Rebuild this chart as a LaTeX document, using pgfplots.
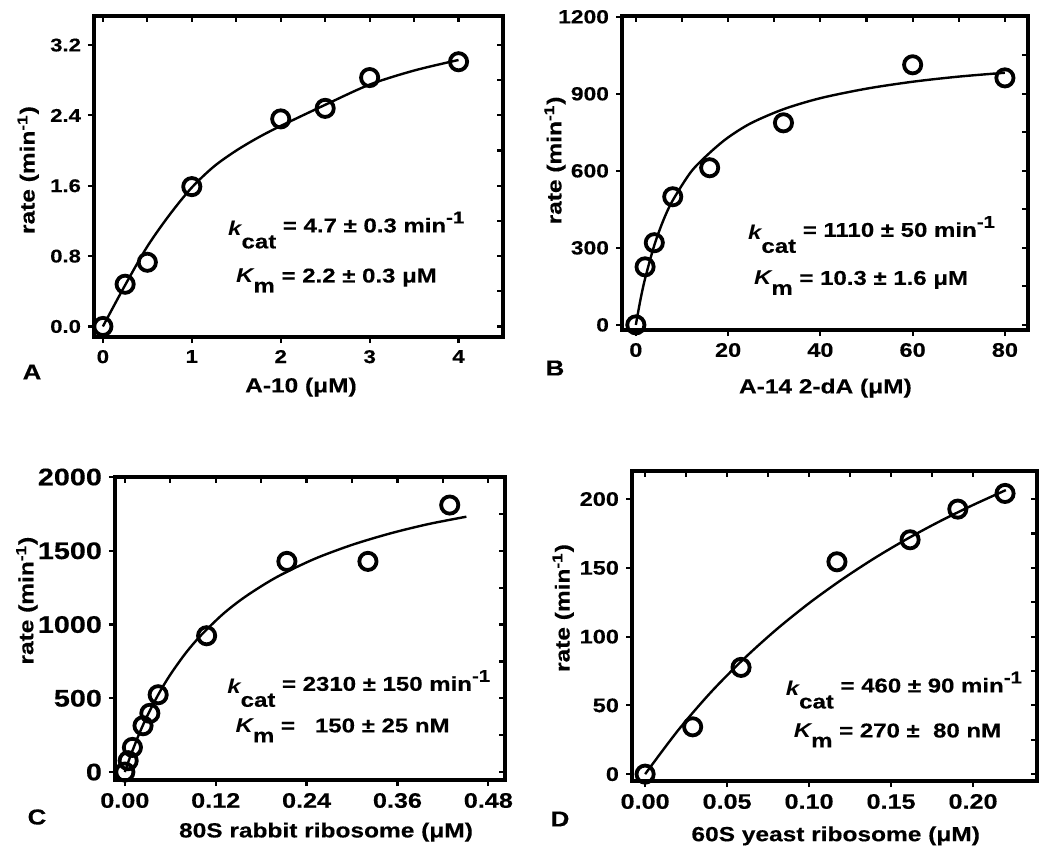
\documentclass[border=0pt]{standalone}
\usepackage{pgfplots}
\pgfplotsset{compat=1.18}
\usepackage{fontspec}
\setmainfont{Liberation Sans}[FakeStretch=1.2, BoldFeatures={FakeBold=0.35}]
\newcommand{\fs}[1]{\fontsize{#1}{#1}\selectfont}
\newcommand{\kcat}{\raisebox{-0.15em}{\itshape k}\raisebox{-0.8em}{cat}}
\newcommand{\Km}{{\itshape K}\raisebox{-0.5em}{m}}
\newcommand{\minv}{min\raisebox{0.45em}{\fs{8.5}-1}}
\newcommand{\minsup}{min\textsuperscript{-1}}
\tikzset{note/.style={anchor=base west, font=\bfseries\fs{10}}}
\pgfplotsset{
  base/.style={scale only axis, clip=false,
    axis line style={line width=1.6pt},
    every tick/.append style={line width=1.1pt, black},
    every minor tick/.append style={line width=1.1pt, black},
    scaled ticks=false,
    /pgf/number format/assume math mode=true,
    /pgf/number format/1000 sep={},
    label style={font=\bfseries\fs{10.2}},
  },
  outerax/.style={base, tick align=outside, xtick pos=bottom, ytick pos=left, major tick length=3pt},
  innerax/.style={base, tick align=inside, xtick pos=top, ytick pos=right,
    xticklabels={}, yticklabels={}, minor x tick num=1, minor y tick num=1,
    major tick length=3pt, minor tick length=3pt},
  fit/.style={black, line width=1.2pt, smooth, no marks},
  pts/.style={black, only marks, mark=o, mark size=4.3pt, mark options={line width=1.9pt, solid}},
  panelA/.style={at={(47pt,-8pt)}, anchor=north west, width=204.5pt, height=160.5pt,
    xmin=-0.1, xmax=4.5, ymin=-0.12, ymax=3.53,
    xtick={0,1,2,3,4}, ytick={0,0.8,1.6,2.4,3.2}},
  panelB/.style={at={(311pt,-8pt)}, anchor=north west, width=203pt, height=157pt,
    xmin=-3, xmax=85, ymin=-20, ymax=1203,
    xtick={0,20,40,60,80}, ytick={0,300,600,900,1200}},
  panelC/.style={at={(57.5pt,-238.5pt)}, anchor=north west, width=195pt, height=151.5pt,
    xmin=-0.013, xmax=0.502, ymin=-54, ymax=2000,
    xtick={0,0.12,0.24,0.36,0.48}, ytick={0,500,1000,1500,2000}},
  panelD/.style={at={(316pt,-235.5pt)}, anchor=north west, width=202.5pt, height=155pt,
    xmin=-0.008, xmax=0.239, ymin=-5, ymax=220.4,
    xtick={0,0.05,0.1,0.15,0.2}, ytick={0,50,100,150,200}},
}
\begin{document}
\begin{tikzpicture}
\path[use as bounding box] (0,0) rectangle (525pt,-424pt);

% ---------------- Panel A
\begin{axis}[outerax, panelA,
  xticklabel style={font=\bfseries\fs{9.3}},
  yticklabel style={font=\bfseries\fs{9.2}, /pgf/number format/.cd, fixed, fixed zerofill, precision=1},
  xlabel={A-10 (μM)}, ylabel={rate (\minsup)},
  xlabel style={at={(axis description cs:0.506,-0.156)}, anchor=center},
  ylabel style={at={(axis description cs:-0.161,0.52)}, anchor=center}]
\addplot[fit] coordinates {(0,0) (0.25,0.47) (0.5,0.91) (0.75,1.27) (1,1.58) (1.25,1.82) (1.5,2.0) (1.75,2.15) (2,2.28) (2.5,2.52) (3,2.75) (3.5,2.91) (4,3.03)};
\addplot[pts] coordinates {(0,0) (0.25,0.48) (0.5,0.73) (1,1.59) (2,2.36) (2.5,2.48) (3,2.83) (4,3.01)};
\node[note] at (axis cs:1.33,1.07) {\kcat\ = 4.7 ± 0.3 \minv};
\node[note] at (axis cs:1.42,0.50) {\Km\ = 2.2 ± 0.3 μM};
\end{axis}
\begin{axis}[innerax, panelA] \end{axis}

% ---------------- Panel B
\begin{axis}[outerax, panelB,
  xticklabel style={font=\bfseries\fs{9.8}},
  yticklabel style={font=\bfseries\fs{9.5}},
  xlabel={A-14 2-dA (μM)}, ylabel={rate (\minsup)},
  xlabel style={at={(axis description cs:0.501,-0.185)}, anchor=center},
  ylabel style={at={(axis description cs:-0.165,0.54)}, anchor=center}]
\addplot[fit] coordinates {(0,0) (1,98) (2,180) (4,310) (6,409) (8,485) (12,597) (16,670) (20,730) (25,786) (32,840) (40,883) (50,920) (60,947) (70,967) (80,982)};
\addplot[pts] coordinates {(0,0) (2,226) (4,320) (8,499) (16,612) (32,787) (60,1013) (80,962)};
\node[note] at (axis cs:22.8,343) {\kcat\ = 1110 ± 50 \minv};
\node[note] at (axis cs:24.1,156) {\Km\ = 10.3 ± 1.6 μM};
\end{axis}
\begin{axis}[innerax, panelB] \end{axis}

% ---------------- Panel C
\begin{axis}[outerax, panelC,
  xticklabel style={font=\bfseries\fs{10.5}, /pgf/number format/.cd, fixed, fixed zerofill, precision=2},
  yticklabel style={font=\bfseries\fs{12}},
  xlabel={80S rabbit ribosome (μM)}, ylabel={rate (\minsup)},
  xlabel style={at={(axis description cs:0.541,-0.172)}, anchor=center},
  ylabel style={at={(axis description cs:-0.226,0.592)}, anchor=center}]
\addplot[fit] coordinates {(0,0) (0.005,75) (0.01,144) (0.02,272) (0.03,385) (0.045,533) (0.06,660) (0.08,804) (0.1,924) (0.13,1073) (0.16,1192) (0.2,1320) (0.25,1444) (0.3,1540) (0.35,1617) (0.4,1680) (0.451,1731)};
\addplot[pts] coordinates {(0,0) (0.0044,77) (0.010,167) (0.024,314) (0.033,398) (0.044,524) (0.108,924) (0.214,1428) (0.321,1428) (0.429,1810)};
\node[note] at (axis cs:0.126,551) {\kcat\ = 2310 ± 150 \minv};
\node[note] at (axis cs:0.137,269) {\Km\ = \ \ 150 ± 25 nM};
\end{axis}
\begin{axis}[innerax, panelC] \end{axis}

% ---------------- Panel D
\begin{axis}[outerax, panelD,
  xticklabel style={font=\bfseries\fs{10.5}, /pgf/number format/.cd, fixed, fixed zerofill, precision=2},
  yticklabel style={font=\bfseries\fs{9.8}},
  xlabel={60S yeast ribosome (μM)}, ylabel={rate (\minsup)},
  xlabel style={at={(axis description cs:0.503,-0.177)}, anchor=center},
  ylabel style={at={(axis description cs:-0.170,0.558)}, anchor=center}]
\addplot[fit] coordinates {(0,0) (0.02,31.7) (0.04,59.4) (0.06,83.6) (0.08,105.1) (0.1,124.3) (0.12,141.5) (0.14,157.1) (0.16,171.2) (0.18,184) (0.2,195.7) (0.22,206.5)};
\addplot[pts] coordinates {(0,0) (0.029,34.4) (0.0585,77.6) (0.117,154.4) (0.1616,170.4) (0.1907,192.7) (0.2195,204.1)};
\node[note] at (axis cs:0.0815,59.4) {\kcat\ = 460 ± 90 \minv};
\node[note] at (axis cs:0.0864,26.7) {\Km\ = 270 ± \ 80 nM};
\end{axis}
\begin{axis}[innerax, panelD] \end{axis}

% panel letters
\node[font=\bfseries\fs{10.8}] at (16pt,-186pt) {A};
\node[font=\bfseries\fs{10.8}] at (277.5pt,-184pt) {B};
\node[font=\bfseries\fs{10.8}] at (18.5pt,-408.5pt) {C};
\node[font=\bfseries\fs{10.8}] at (280pt,-409.5pt) {D};
\end{tikzpicture}
\end{document}
